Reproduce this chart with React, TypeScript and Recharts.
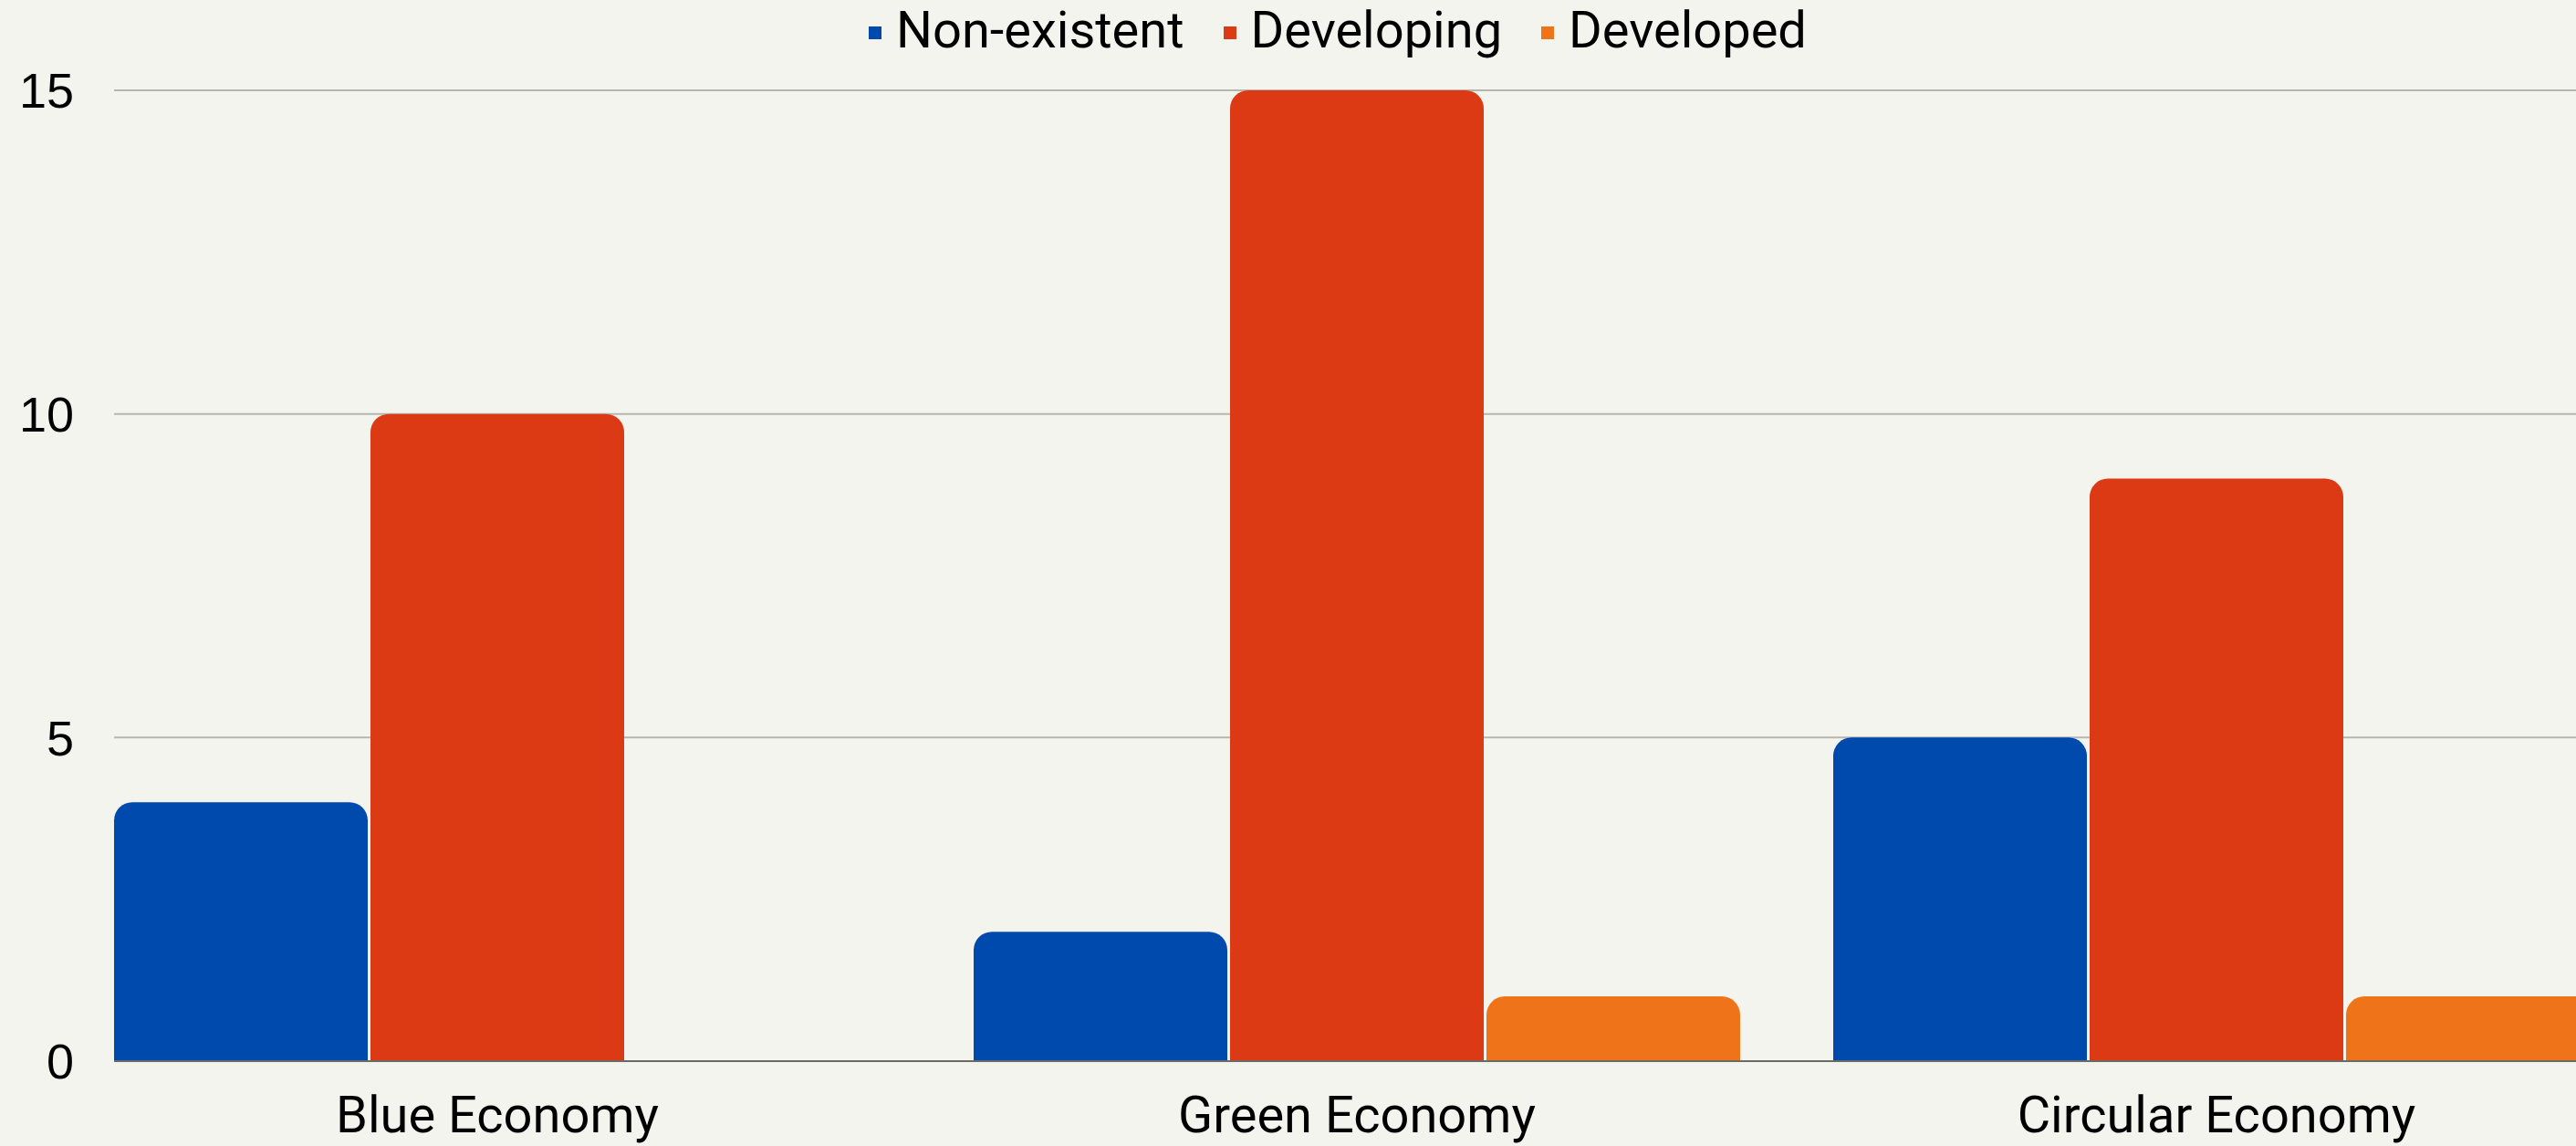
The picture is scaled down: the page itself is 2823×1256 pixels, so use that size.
import { BarChart, Bar, XAxis, YAxis, CartesianGrid } from "recharts";

const categories = ["Blue Economy", "Green Economy", "Circular Economy"];
const nonExistent = [4, 2, 5];
const developing = [10, 15, 9];
const developed = [0, 1, 1];
const yTicks = [0, 5, 10, 15];

const series = [
  { key: "nonExistent", name: "Non-existent", color: "#004aad" },
  { key: "developing", name: "Developing", color: "#dc3a15" },
  { key: "developed", name: "Developed", color: "#ef7419" },
];

const data = categories.map((name, i) => ({
  name,
  nonExistent: nonExistent[i],
  developing: developing[i],
  developed: developed[i],
}));

const FONT = "Roboto, 'Noto Sans', sans-serif";
const NUM_FONT = "'Liberation Sans', Arial, sans-serif";

function LegendRow() {
  return (
    <div
      style={{
        position: "absolute",
        top: 5,
        left: 952,
        display: "flex",
        alignItems: "center",
        fontFamily: FONT,
        fontSize: 56,
        lineHeight: "56px",
        color: "#000",
        whiteSpace: "nowrap",
      }}
    >
      {series.map((s) => (
        <div key={s.key} style={{ display: "flex", alignItems: "center", marginRight: 43 }}>
          <span
            style={{
              width: 14,
              height: 14,
              background: s.color,
              display: "inline-block",
              marginRight: 16,
              marginTop: 5,
            }}
          />
          <span>{s.name}</span>
        </div>
      ))}
    </div>
  );
}

export default function App() {
  return (
    <div
      style={{
        position: "fixed",
        top: 0,
        left: 0,
        width: 2823,
        height: 1256,
        overflow: "hidden",
        background: "#f4f4ef",
      }}
    >
      {/* plot runs past the right edge; the last bar is cut off */}
      <BarChart
        width={2951}
        height={1256}
        data={data}
        margin={{ top: 99, right: 0, bottom: 0, left: 0 }}
        barCategoryGap={51}
        barGap={3}
        style={{ fontFamily: FONT }}
      >
        <CartesianGrid vertical={false} stroke="#b6b6b1" strokeWidth={2} />
        <XAxis
          dataKey="name"
          height={93}
          padding={{ left: -51, right: 51 }}
          tickLine={false}
          tickSize={0}
          tickMargin={38}
          axisLine={{ stroke: "#6b6b66", strokeWidth: 2 }}
          tick={{ fill: "#000", fontSize: 56, fontFamily: FONT }}
        />
        <YAxis
          width={125}
          domain={[0, 15]}
          ticks={yTicks}
          axisLine={false}
          tickLine={false}
          tickSize={0}
          tickMargin={44}
          tick={{ fill: "#000", fontSize: 54, fontFamily: NUM_FONT }}
        />
        {series.map((s) => (
          <Bar
            key={s.key}
            dataKey={s.key}
            name={s.name}
            fill={s.color}
            radius={[20, 20, 0, 0]}
            isAnimationActive={false}
          />
        ))}
      </BarChart>
      <LegendRow />
    </div>
  );
}
